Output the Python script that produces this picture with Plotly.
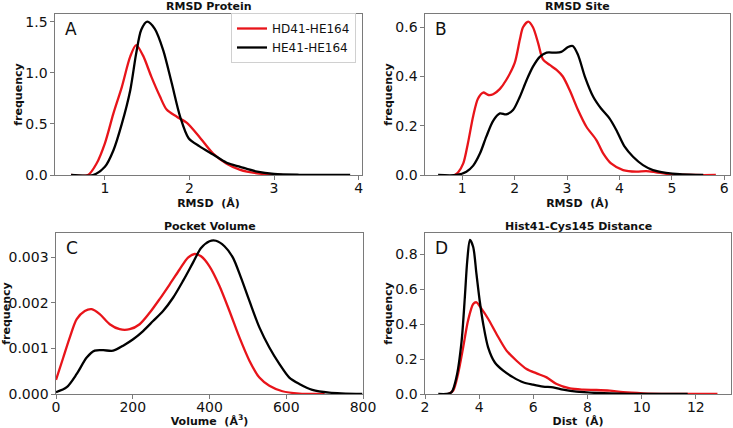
import plotly.graph_objects as go

# --- DATA ---
SERIES = ["HD41-HE164", "HE41-HE164"]
COLORS = ["#e8141a", "#000000"]

# A: RMSD Protein
a_hd_x = [0.6, 0.8, 0.9, 1.0, 1.1, 1.2, 1.3, 1.37, 1.45, 1.55, 1.65, 1.73, 1.85, 1.97, 2.12, 2.28, 2.44, 2.6, 2.8, 3.0, 3.1]
a_hd_y = [0.0, 0.0, 0.11, 0.31, 0.6, 0.86, 1.16, 1.27, 1.17, 0.96, 0.77, 0.64, 0.57, 0.51, 0.37, 0.21, 0.11, 0.05, 0.016, 0.003, 0.0]
a_he_x = [0.6, 0.86, 1.0, 1.1, 1.2, 1.3, 1.37, 1.43, 1.5, 1.59, 1.69, 1.79, 1.89, 1.99, 2.12, 2.28, 2.44, 2.6, 2.8, 3.0, 3.3, 3.9]
a_he_y = [0.0, 0.0, 0.08, 0.24, 0.5, 0.83, 1.19, 1.42, 1.5, 1.43, 1.22, 0.9, 0.57, 0.36, 0.28, 0.2, 0.12, 0.08, 0.033, 0.01, 0.002, 0.0]

# B: RMSD Site
b_hd_x = [0.86, 0.92, 1.02, 1.11, 1.21, 1.3, 1.4, 1.5, 1.59, 1.72, 1.84, 2.0, 2.1, 2.16, 2.26, 2.35, 2.45, 2.54,
          2.67, 2.8, 2.92, 3.05, 3.21, 3.37, 3.56, 3.69, 3.84, 4.07, 4.32, 4.51, 4.7, 4.96, 5.46, 5.84]
b_hd_y = [0.0, 0.01, 0.047, 0.13, 0.24, 0.31, 0.335, 0.325, 0.328, 0.35, 0.386, 0.454, 0.55, 0.6, 0.623, 0.6, 0.535, 0.47,
          0.447, 0.427, 0.4, 0.345, 0.264, 0.196, 0.142, 0.088, 0.047, 0.02, 0.0135, 0.016, 0.011, 0.003, 0.0, 0.0]
b_he_x = [0.54, 0.89, 1.08, 1.21, 1.34, 1.46, 1.59, 1.72, 1.84, 1.97, 2.1, 2.23, 2.35, 2.48, 2.61, 2.77, 2.89, 3.02,
          3.11, 3.21, 3.34, 3.5, 3.65, 3.81, 3.94, 4.1, 4.26, 4.45, 4.64, 4.89, 5.15, 5.46, 5.6]
b_he_y = [0.0, 0.0, 0.0135, 0.038, 0.088, 0.156, 0.22, 0.25, 0.246, 0.264, 0.318, 0.386, 0.44, 0.48, 0.497, 0.497, 0.5, 0.52,
          0.524, 0.488, 0.4, 0.318, 0.27, 0.23, 0.183, 0.115, 0.074, 0.04, 0.02, 0.009, 0.003, 0.0005, 0.0]

# C: Pocket Volume
c_hd_x = [0, 19, 36, 54, 75, 93, 114, 140, 166, 192, 218, 244, 270, 296, 322, 344, 361, 378, 400, 426, 452, 478,
          504, 530, 556, 590, 634, 686, 700]
c_hd_y = [0.00031, 0.0008, 0.00124, 0.00164, 0.00182, 0.00186, 0.00175, 0.00153, 0.00142, 0.00142, 0.00153, 0.00178,
          0.00208, 0.0024, 0.00273, 0.00299, 0.00307, 0.00302, 0.0028, 0.00237, 0.00182, 0.00124, 0.00073, 0.00036,
          0.00018, 0.00006, 0.00001, 0.0, 0.0]
c_he_x = [0, 28, 54, 80, 101, 123, 149, 175, 201, 227, 253, 279, 305, 331, 357, 378, 400, 417, 439, 461, 482, 504,
          530, 556, 582, 608, 634, 668, 712, 798]
c_he_y = [0.00004, 0.00015, 0.00044, 0.0008, 0.00095, 0.00096, 0.00095, 0.00106, 0.0012, 0.00138, 0.0016, 0.00182,
          0.00211, 0.00248, 0.00288, 0.0032, 0.00335, 0.00336, 0.00324, 0.00299, 0.00255, 0.00204, 0.00146, 0.00102,
          0.00066, 0.00036, 0.00022, 0.00009, 0.00003, 0.0]

# D: Hist41-Cys145 Distance
d_hd_x = [2.86, 3.04, 3.22, 3.41, 3.59, 3.78, 3.9, 4.09, 4.33, 4.64, 5.01, 5.38, 5.75, 6.12, 6.49, 6.86, 7.35, 7.84,
          8.33, 8.82, 9.32, 10.06, 11.04, 12.8]
d_hd_y = [0.0, 0.02, 0.115, 0.267, 0.42, 0.514, 0.524, 0.486, 0.43, 0.343, 0.248, 0.19, 0.143, 0.118, 0.095, 0.057,
          0.032, 0.025, 0.023, 0.019, 0.01, 0.004, 0.001, 0.0]
d_he_x = [2.49, 2.79, 2.98, 3.16, 3.35, 3.47, 3.56, 3.66, 3.78, 3.9, 4.02, 4.15, 4.33, 4.58, 4.89, 5.26, 5.62, 5.99,
          6.36, 6.73, 7.1, 7.59, 8.33, 9.56, 11.7]
d_he_y = [0.0, 0.0, 0.01, 0.095, 0.3, 0.55, 0.76, 0.88, 0.84, 0.686, 0.533, 0.4, 0.267, 0.18, 0.133, 0.095, 0.067, 0.053,
          0.042, 0.038, 0.025, 0.013, 0.006, 0.001, 0.0]

PANELS = [
    dict(letter="A", title="RMSD Protein", xlabel="RMSD  (Å)",
         curves=[(a_hd_x, a_hd_y), (a_he_x, a_he_y)],
         xr=[0.41, 4.04], yr=[0, 1.575], xt=[1, 2, 3, 4], yt=[0, 0.5, 1.0, 1.5], yfmt=".1f"),
    dict(letter="B", title="RMSD Site", xlabel="RMSD  (Å)",
         curves=[(b_hd_x, b_hd_y), (b_he_x, b_he_y)],
         xr=[0.29, 6.11], yr=[0, 0.654], xt=[1, 2, 3, 4, 5, 6], yt=[0, 0.2, 0.4, 0.6], yfmt=".1f"),
    dict(letter="C", title="Pocket Volume", xlabel="Volume  (Å<sup>3</sup>)",
         curves=[(c_hd_x, c_hd_y), (c_he_x, c_he_y)],
         xr=[0, 800], yr=[0, 0.00353], xt=[0, 200, 400, 600, 800], yt=[0, 0.001, 0.002, 0.003], yfmt=".3f"),
    dict(letter="D", title="Hist41-Cys145 Distance", xlabel="Dist  (Å)",
         curves=[(d_hd_x, d_hd_y), (d_he_x, d_he_y)],
         xr=[2, 13.3], yr=[0, 0.92], xt=[2, 4, 6, 8, 10, 12], yt=[0, 0.2, 0.4, 0.6, 0.8], yfmt=".1f"),
]

W, H = 733, 428
# pixel boxes of each axes (left, right, top, bottom)
BOXES = [(55, 362, 14, 175), (425, 730, 14, 175), (56, 363, 233, 394), (425, 731, 233, 394)]

FONT = "DejaVu Sans"
FRAME = "#7a7a7a"

fig = go.Figure()
annotations = []

for i, (p, box) in enumerate(zip(PANELS, BOXES)):
    n = "" if i == 0 else str(i + 1)
    l, r, t, b = box
    xdom = [l / W, r / W]
    ydom = [1 - b / H, 1 - t / H]

    for j, (xs, ys) in enumerate(p["curves"]):
        fig.add_trace(go.Scatter(
            x=xs, y=ys, mode="lines", name=SERIES[j],
            line=dict(color=COLORS[j], width=2.3, shape="spline", smoothing=0.8),
            xaxis="x" + n, yaxis="y" + n, showlegend=(i == 0),
        ))

    axis_common = dict(showline=True, mirror=True, linecolor=FRAME, linewidth=1.2, automargin=False,
                       ticks="outside", ticklen=3.5, tickcolor=FRAME, showgrid=False, zeroline=False,
                       tickfont=dict(family=FONT, size=14, color="#111"))
    fig.layout["xaxis" + n] = dict(
        axis_common, domain=xdom, range=p["xr"], tickvals=p["xt"], anchor="y" + n, ticklabelstandoff=-3,
        title=dict(text="<b>" + p["xlabel"] + "</b>", font=dict(family=FONT, size=11, color="#111"), standoff=3))
    fig.layout["yaxis" + n] = dict(
        axis_common, domain=ydom, range=p["yr"], tickvals=p["yt"], tickformat=p["yfmt"], anchor="x" + n,
        title=dict(text="<b>frequency</b>", font=dict(family=FONT, size=11, color="#111"), standoff=0))

    annotations.append(dict(text="<b>" + p["title"] + "</b>", x=(l + r) / 2 / W, y=1 - (t - 7) / H,
                            xref="paper", yref="paper", showarrow=False, xanchor="center", yanchor="middle",
                            font=dict(family=FONT, size=11, color="#111")))
    annotations.append(dict(text=p["letter"], x=(l + 8) / W, y=1 - (t + 3) / H, xref="paper", yref="paper",
                            showarrow=False, xanchor="left", yanchor="top",
                            font=dict(family=FONT, size=17, color="#111")))

fig.update_layout(
    width=W, height=H, margin=dict(l=0, r=0, t=0, b=0),
    plot_bgcolor="white", paper_bgcolor="white",
    annotations=annotations,
    legend=dict(x=356 / W, y=1 - 13 / H, xanchor="right", yanchor="top",
                bgcolor="white", bordercolor="#d0d0d0", borderwidth=1,
                font=dict(family=FONT, size=12, color="#111"), tracegroupgap=0),
)

# page has a default 8px body margin; drop it so the figure fills the window
fig.write_html("out.html", config={"displayModeBar": False},
               post_script="document.body.style.margin='0';")
